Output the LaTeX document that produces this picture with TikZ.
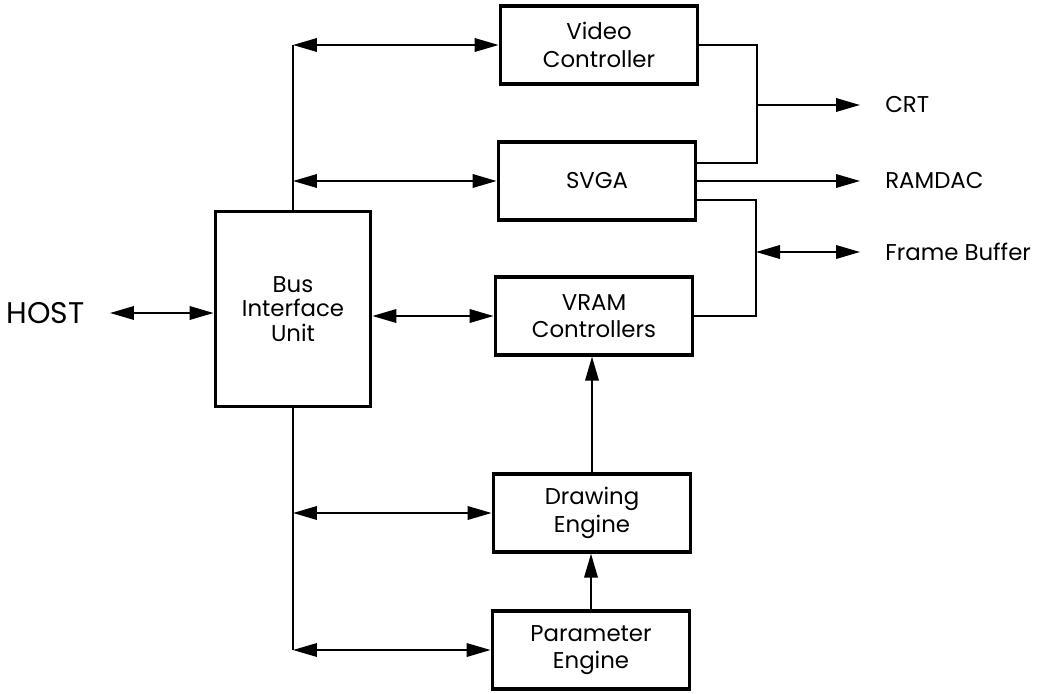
\documentclass[tikz,border=0pt]{standalone}
\usepackage{fontspec}
\setmainfont{Poppins}
\usetikzlibrary{arrows.meta}

\begin{document}
\begin{tikzpicture}[x=0.02cm,y=-0.02cm,block/.style={draw,line width=2.2pt,minimum width=3.94cm,minimum height=1.55cm,align=center,font=\fontsize{13}{15.5}\selectfont},wire/.style={line width=1.1pt},oneway/.style={wire,-{Triangle[length=0.48cm,width=0.27cm]}},twoway/.style={wire,{Triangle[length=0.48cm,width=0.27cm]}-{Triangle[length=0.48cm,width=0.27cm]}},port/.style={inner xsep=0.5cm,inner ysep=0pt,font=\fontsize{13}{16}\selectfont}]

\useasboundingbox (0,0) rectangle (1044,693);

\node[block] (vc) at (599,45) {Video\\Controller};
\node[block] (svga) at (597,181) {SVGA};
\node[block] (vram) at (594,316) {VRAM\\Controllers};
\node[block] (de) at (592,513) {Drawing\\Engine};
\node[block] (pe) at (591,650) {Parameter\\Engine};
\node[block,minimum width=3.1cm,minimum height=3.9cm,font=\fontsize{13}{14}\selectfont] (biu) at (293,309) {Bus\\Interface\\Unit};

\node[port,anchor=east,font=\fontsize{17}{20}\selectfont] (host) at (110,313) {HOST};
\node[port,anchor=west] (crt) at (860,105) {CRT};
\node[port,anchor=west] (ramdac) at (860,181) {RAMDAC};
\node[port,anchor=west] (fb) at (860,252) {Frame Buffer};
\coordinate (crtjoin) at (757,105);
\coordinate (fbjoin) at (756,252);

\draw[twoway] (host.east) -- (biu.west |- host.east);
\draw[wire] (biu.north) -- (biu.north |- vc.west);
\draw[twoway] (biu.north |- vc.west) -- (vc.west);
\draw[twoway] (biu.north |- svga.west) -- (svga.west);
\draw[twoway] (biu.east |- vram.west) -- (vram.west);
\draw[wire] (biu.south) -- (biu.south |- pe.west);
\draw[twoway] (biu.south |- de.west) -- (de.west);
\draw[twoway] (biu.south |- pe.west) -- (pe.west);
\draw[oneway] (de.north) -- (de.north |- vram.south);
\draw[oneway] (pe.north) -- (pe.north |- de.south);
\draw[wire] (vc.east) -| (crtjoin) |- ([yshift=0.36cm]svga.east);
\draw[oneway] (crtjoin) -- (crt.west);
\draw[oneway] (svga.east) -- (ramdac.west);
\draw[wire] ([yshift=-0.38cm]svga.east) -| (fbjoin) |- (vram.east);
\draw[twoway] (fbjoin) -- (fb.west);
\end{tikzpicture}
\end{document}
